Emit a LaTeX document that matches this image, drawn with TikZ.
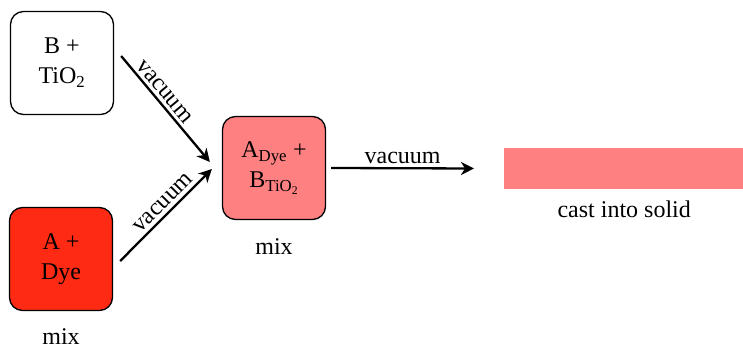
\documentclass[tikz,border=0pt]{standalone}
\usepackage{fontspec}
\setmainfont{Liberation Serif}
\usetikzlibrary{arrows.meta}
\definecolor{boxred}{RGB}{255,42,20}
\definecolor{boxpink}{RGB}{255,128,128}
\begin{document}
\begin{tikzpicture}[x=1pt,y=1pt,
  every node/.style={font=\fontsize{24}{30}\selectfont},
  box/.style={draw=black, line width=1.3pt, rounded corners=13pt, minimum width=103pt, minimum height=103pt, align=center, inner sep=0pt},
  arr/.style={line width=2.3pt, -{Stealth[length=13pt,width=13pt,inset=4pt]}},
  captext/.style={anchor=base}
]
\useasboundingbox (0,0) rectangle (743,345);
\node[box, fill=white] (b) at (62,282) {B +\\TiO\textsubscript{2}};
\node[box, fill=boxred] (a) at (61,86) {A +\\Dye};
\node[box, fill=boxpink] (m) at (274,177) {A\textsubscript{Dye} +\\B\textsubscript{TiO\textsubscript{2}}};
\node[fill=boxpink, minimum width=240pt, minimum height=41pt, inner sep=0pt, anchor=west] (s) at (504,176.5) {};
\node[captext] (mixa) at ([yshift=-33pt]a.south) {mix};
\node[captext] (mixm) at ([yshift=-34pt]m.south) {mix};
\node[captext] (cast) at ([yshift=-28pt]s.south) {cast into solid};
\draw[arr] ([shift={(7pt,7pt)}]b.east) -- node[pos=0.4, sloped, above] {vacuum} ([shift={(-12pt,6pt)}]m.west);
\draw[arr] ([shift={(7pt,-2pt)}]a.east) -- node[pos=0.55, sloped, above] {vacuum} ([shift={(-10pt,-1pt)}]m.west);
\draw[arr] ([shift={(5pt,0pt)}]m.east) -- node[above] {vacuum} ([shift={(-30pt,0pt)}]s.west);
\end{tikzpicture}
\end{document}
